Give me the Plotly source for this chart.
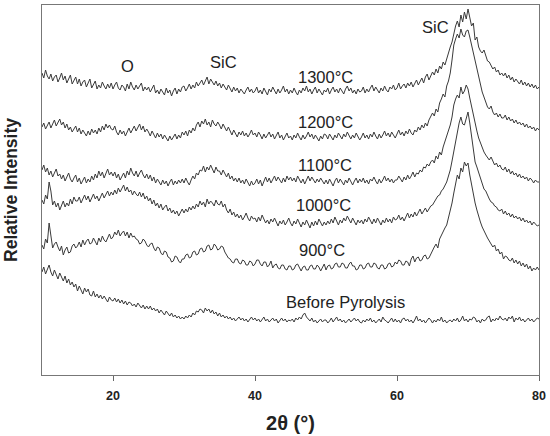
import numpy as np
import plotly.graph_objects as go

two_theta = np.arange(10, 80.001, 0.25)

i_1300 = [302, 297, 305, 299, 296, 301, 294, 298, 300, 293, 297, 302, 295, 299, 292, 296, 300, 291, 295, 298,
          291, 296, 289, 293, 295, 288, 292, 296, 287, 291, 294, 286, 290, 287, 293, 289, 286, 291, 287, 292,
          286, 290, 293, 287, 285, 290, 288, 284, 291, 286, 293, 288, 285, 290, 286, 289, 292, 284, 288, 285,
          288, 283, 286, 290, 282, 285, 281, 286, 283, 280, 287, 282, 285, 279, 284, 287, 281, 286, 283, 288,
          289, 284, 287, 291, 286, 290, 287, 293, 289, 292, 295, 290, 294, 298, 291, 296, 293, 290, 294, 289,
          292, 287, 291, 288, 285, 290, 286, 283, 288, 284, 287, 282, 286, 284, 281, 285, 288, 283, 286, 282,
          284, 288, 282, 285, 281, 287, 284, 280, 286, 283, 288, 284, 281, 286, 282, 285, 289, 283, 286, 281,
          285, 282, 287, 283, 280, 285, 282, 287, 284, 289, 283, 286, 281, 285, 288, 282, 286, 283, 280, 285,
          283, 287, 281, 285, 288, 283, 286, 282, 287, 284, 281, 286, 289, 284, 287, 282, 285, 281, 286, 283,
          284, 288, 282, 286, 283, 287, 290, 284, 288, 285, 282, 287, 284, 289, 285, 283, 288, 286, 290, 285,
          287, 292, 286, 289, 291, 287, 292, 289, 293, 288, 291, 295, 290, 294, 297, 292, 298, 301, 295, 299,
          303, 300, 306, 302, 309, 306, 313, 310, 317, 322, 328, 333, 342, 349, 354, 348, 360, 353, 363, 356,
          366, 357, 349, 352, 335, 338, 328, 324, 322, 325, 318, 314, 313, 309, 306, 308, 303, 305, 300, 302,
          299, 302, 297, 300, 295, 298, 293, 296, 294, 291, 295, 290, 293, 289, 292, 288, 291, 287, 290, 286,
          288]

i_1200 = [248, 252, 246, 250, 253, 247, 251, 255, 249, 252, 256, 250, 253, 247, 251, 245, 248, 243, 246, 249,
          243, 247, 241, 245, 242, 239, 244, 240, 246, 242, 245, 241, 247, 243, 249, 245, 251, 247, 250, 246,
          245, 249, 243, 240, 245, 241, 244, 239, 243, 247, 242, 246, 249, 244, 248, 251, 245, 249, 243, 246,
          243, 239, 244, 240, 237, 242, 238, 241, 236, 240, 237, 234, 239, 235, 238, 241, 236, 240, 237, 243,
          240, 244, 239, 245, 242, 247, 244, 250, 253, 248, 254, 251, 256, 250, 253, 248, 255, 251, 249, 253,
          250, 246, 251, 247, 244, 248, 243, 240, 245, 241, 238, 243, 240, 244, 239, 242, 238, 241, 245, 240,
          242, 238, 243, 240, 236, 241, 237, 240, 243, 238, 241, 236, 239, 243, 237, 240, 235, 239, 242, 237,
          239, 235, 240, 237, 242, 238, 235, 240, 236, 239, 243, 238, 241, 236, 240, 237, 234, 239, 236, 241,
          240, 236, 241, 238, 235, 240, 237, 242, 239, 236, 241, 238, 243, 239, 236, 240, 237, 242, 238, 235,
          238, 242, 237, 240, 236, 241, 238, 243, 239, 236, 241, 237, 240, 244, 239, 242, 238, 243, 240, 237,
          241, 245, 240, 243, 239, 244, 241, 246, 242, 240, 245, 243, 248, 245, 250, 247, 252, 249, 255, 258,
          262, 259, 266, 263, 272, 276, 281, 278, 289, 294, 302, 315, 330, 336, 341, 337, 346, 340, 338, 344,
          345, 338, 330, 322, 313, 306, 298, 290, 283, 278, 272, 268, 266, 269, 263, 260, 262, 258, 261, 257,
          257, 260, 255, 258, 254, 256, 252, 255, 251, 253, 250, 252, 248, 251, 247, 249, 246, 248, 244, 247,
          245]

i_1100 = [205, 210, 203, 207, 200, 204, 198, 202, 206, 199, 201, 196, 200, 194, 198, 202, 196, 193, 197, 200,
          193, 197, 191, 195, 198, 192, 196, 193, 199, 195, 201, 197, 204, 199, 203, 197, 201, 206, 200, 203,
          199, 203, 197, 201, 195, 199, 202, 197, 204, 200, 207, 202, 199, 204, 198, 202, 205, 200, 197, 201,
          196, 200, 194, 198, 192, 196, 193, 190, 195, 191, 194, 189, 193, 196, 190, 194, 191, 195, 192, 196,
          192, 197, 193, 190, 195, 199, 196, 202, 200, 205, 204, 209, 203, 208, 205, 210, 206, 202, 208, 204,
          204, 200, 205, 201, 198, 202, 196, 199, 194, 197, 193, 197, 192, 195, 191, 196, 192, 189, 194, 190,
          192, 196, 191, 195, 189, 194, 198, 193, 197, 192, 196, 199, 194, 198, 195, 192, 197, 193, 199, 195,
          198, 194, 197, 193, 199, 195, 192, 196, 191, 195, 199, 194, 198, 195, 192, 196, 193, 197, 194, 191,
          195, 191, 196, 192, 189, 194, 197, 192, 196, 193, 190, 195, 192, 197, 193, 190, 194, 197, 192, 196,
          193, 197, 192, 195, 191, 196, 194, 198, 194, 191, 196, 192, 195, 199, 194, 197, 193, 196, 192, 195,
          195, 199, 196, 193, 198, 195, 200, 196, 199, 203, 198, 202, 201, 205, 203, 208, 207, 211, 209, 213,
          215, 212, 219, 216, 223, 220, 228, 233, 238, 243, 250, 258, 270, 276, 280, 277, 288, 281, 284, 290,
          286, 277, 268, 259, 250, 244, 237, 232, 226, 223, 220, 217, 215, 218, 213, 210, 212, 208, 210, 206,
          205, 208, 203, 206, 201, 204, 200, 202, 198, 201, 197, 199, 196, 198, 194, 197, 195, 192, 195, 193,
          193]

i_1000 = [175, 171, 180, 176, 193, 184, 170, 174, 168, 172, 165, 170, 174, 168, 172, 169, 176, 171, 178, 174,
          174, 178, 172, 176, 180, 175, 179, 173, 177, 181, 176, 179, 174, 178, 182, 177, 180, 184, 179, 183,
          180, 185, 181, 187, 183, 186, 190, 184, 188, 183, 185, 180, 184, 181, 179, 183, 178, 182, 176, 179,
          174, 177, 171, 175, 169, 172, 167, 171, 165, 168, 170, 164, 167, 162, 165, 161, 164, 159, 163, 166,
          162, 166, 163, 168, 165, 169, 166, 171, 168, 174, 170, 173, 168, 176, 171, 174, 172, 169, 175, 171,
          170, 174, 168, 171, 165, 162, 166, 160, 163, 158, 161, 157, 160, 155, 158, 162, 157, 154, 159, 156,
          157, 153, 158, 154, 160, 156, 152, 155, 151, 156, 153, 157, 152, 149, 154, 151, 155, 150, 153, 157,
          152, 149, 154, 151, 156, 152, 148, 153, 150, 155, 151, 147, 153, 149, 154, 150, 156, 152, 149, 153,
          150, 154, 151, 156, 152, 158, 153, 150, 155, 152, 157, 154, 159, 155, 152, 157, 153, 150, 155, 152,
          155, 151, 156, 153, 158, 154, 151, 156, 152, 157, 154, 150, 155, 152, 157, 153, 156, 152, 158, 155,
          156, 160, 155, 158, 154, 159, 162, 157, 161, 158, 163, 159, 162, 166, 161, 164, 167, 163, 166, 169,
          170, 173, 175, 179, 180, 184, 186, 190, 193, 199, 205, 214, 224, 236, 245, 252, 258, 251, 250, 257,
          263, 252, 240, 226, 213, 208, 202, 196, 190, 186, 184, 179, 176, 173, 172, 169, 168, 165, 164, 166,
          161, 164, 160, 162, 158, 161, 157, 159, 156, 158, 154, 157, 153, 155, 152, 154, 150, 153, 151, 149,
          150]

i_900 = [130, 126, 136, 132, 152, 141, 127, 131, 133, 128, 124, 129, 120, 125, 128, 122, 123, 129, 131, 127,
         129, 133, 128, 135, 130, 134, 136, 131, 132, 137, 134, 130, 137, 133, 139, 135, 133, 138, 141, 136,
         138, 143, 140, 145, 139, 142, 144, 139, 143, 137, 142, 138, 139, 136, 135, 131, 132, 136, 134, 130,
         128, 131, 132, 127, 124, 128, 127, 122, 120, 124, 123, 118, 117, 113, 114, 119, 118, 114, 112, 116,
         116, 120, 121, 117, 118, 123, 124, 120, 121, 126, 127, 123, 124, 129, 130, 125, 126, 131, 129, 125,
         126, 129, 128, 123, 120, 117, 116, 113, 112, 116, 116, 112, 111, 115, 114, 110, 110, 114, 113, 109,
         111, 115, 115, 111, 109, 113, 113, 108, 110, 114, 107, 110, 111, 107, 106, 110, 110, 106, 105, 109,
         109, 105, 106, 110, 111, 107, 104, 108, 109, 105, 105, 109, 110, 106, 106, 110, 108, 104, 108, 111,
         105, 109, 110, 106, 107, 111, 112, 108, 108, 112, 111, 107, 107, 111, 113, 109, 109, 105, 106, 110,
         110, 106, 107, 111, 112, 108, 108, 112, 111, 107, 106, 110, 110, 106, 107, 111, 112, 108, 109, 113,
         111, 115, 114, 110, 110, 114, 113, 109, 116, 119, 113, 117, 118, 114, 115, 119, 120, 116, 117, 121,
         125, 128, 131, 127, 136, 140, 143, 147, 150, 157, 165, 172, 182, 191, 200, 196, 207, 203, 213, 209,
         212, 200, 190, 181, 172, 165, 158, 153, 148, 144, 140, 137, 134, 131, 128, 130, 124, 126, 121, 123,
         116, 119, 118, 115, 114, 117, 112, 115, 111, 114, 109, 112, 108, 111, 106, 109, 104, 107, 105, 108,
         105]

i_before = [103, 108, 101, 106, 110, 103, 99, 105, 100, 96, 102, 97, 94, 99, 92, 96, 90, 93, 88, 91,
            84, 89, 85, 81, 87, 83, 86, 80, 79, 84, 78, 81, 77, 80, 76, 79, 76, 73, 78, 75,
            74, 77, 73, 76, 72, 75, 71, 74, 70, 73, 72, 69, 71, 68, 72, 69, 67, 70, 66, 69,
            66, 69, 65, 67, 64, 66, 62, 65, 63, 60, 64, 61, 59, 62, 58, 60, 57, 59, 56, 58,
            56, 59, 57, 60, 58, 62, 60, 64, 63, 66, 65, 62, 67, 64, 66, 62, 65, 61, 63, 59,
            62, 58, 60, 57, 59, 56, 58, 55, 57, 54, 56, 58, 55, 57, 54, 56, 53, 55, 58, 55,
            57, 54, 56, 53, 55, 58, 54, 56, 53, 55, 57, 54, 56, 52, 55, 57, 54, 56, 53, 55,
            54, 56, 53, 57, 55, 58, 56, 60, 62, 58, 56, 54, 57, 53, 55, 52, 54, 56, 53, 55,
            55, 52, 54, 57, 53, 55, 58, 54, 56, 53, 55, 52, 54, 56, 53, 55, 57, 54, 56, 53,
            52, 55, 53, 56, 54, 57, 53, 55, 52, 54, 56, 53, 58, 55, 54, 52, 55, 57, 53, 56,
            53, 55, 52, 56, 57, 54, 56, 53, 55, 52, 55, 59, 54, 56, 53, 55, 52, 54, 57, 55,
            52, 55, 53, 56, 54, 58, 53, 55, 52, 54, 55, 53, 56, 54, 57, 53, 55, 59, 54, 56,
            53, 56, 55, 58, 57, 53, 55, 52, 56, 54, 55, 58, 59, 53, 56, 54, 57, 55, 59, 56,
            55, 57, 54, 58, 56, 59, 53, 57, 55, 58, 54, 56, 53, 55, 57, 54, 56, 53, 55, 57,
            56]

series_names = ["1300°C", "1200°C", "1100°C", "1000°C", "900°C", "Before Pyrolysis"]
series_values = [i_1300, i_1200, i_1100, i_1000, i_900, i_before]
for v in series_values:
    assert len(v) == len(two_theta), (len(v), len(two_theta))

label_text = ["O", "SiC", "SiC", "1300°C", "1200°C", "1100°C", "1000°C", "900°C", "Before Pyrolysis"]
label_x = [22.1, 35.5, 65.4, 49.9, 49.9, 49.9, 49.6, 49.4, 52.7]
label_y = [309, 313, 348, 298, 253, 210, 170, 125, 73]

FONT = "Liberation Sans, Arial, sans-serif"
fig = go.Figure()
for name, vals in zip(series_names, series_values):
    fig.add_trace(go.Scatter(x=two_theta, y=vals, mode="lines", name=name,
                             line=dict(color="#3a3a3a", width=1)))

for t, x, y in zip(label_text, label_x, label_y):
    fig.add_annotation(x=x, y=y, text=t, showarrow=False,
                       font=dict(family=FONT, size=16.5, color="#222"))

fig.update_layout(
    width=550, height=436,
    margin=dict(l=42, r=11, t=5, b=61),
    plot_bgcolor="white", paper_bgcolor="white",
    showlegend=False,
    font=dict(family=FONT, color="#222"),
)
fig.update_xaxes(range=[10, 80], tickvals=[20, 40, 60, 80],
                 ticks="outside", ticklen=5, tickcolor="#666",
                 showline=True, linecolor="#777", linewidth=1, mirror=True,
                 showgrid=False, zeroline=False, ticklabelstandoff=4,
                 tickfont=dict(family=FONT, size=12.5, color="#222", weight="bold"),
                 title=dict(text="<b>2θ (°)</b>", font=dict(family=FONT, size=20, color="#222"),
                            standoff=13))
fig.update_yaxes(range=[0, 370], showticklabels=False, ticks="",
                 showline=True, linecolor="#777", linewidth=1, mirror=True,
                 showgrid=False, zeroline=False,
                 title=dict(text="<b>Relative Intensity</b>", font=dict(family=FONT, size=17.5, color="#222"),
                            standoff=18))

fig.write_html("out.html", config={"displayModeBar": False},
               post_script="document.body.style.margin='0';")
